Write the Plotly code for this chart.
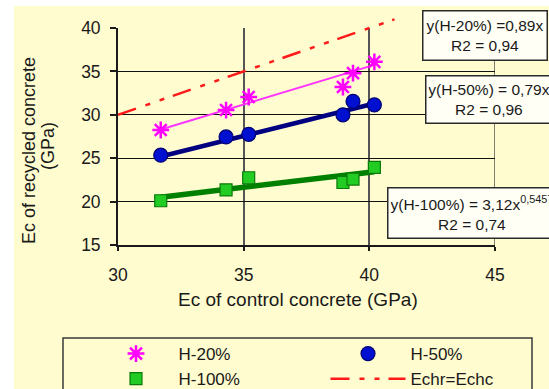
import plotly.graph_objects as go

# ---------------- data ----------------
ec_control = [31.7, 34.3, 35.2, 38.95, 39.35, 40.2]
h20 = [28.25, 30.55, 32.05, 33.2, 34.8, 36.1]
h50 = [25.35, 27.45, 27.75, 30.0, 31.55, 31.15]
h100 = [20.1, 21.35, 22.75, 22.2, 22.6, 23.95]

trend_x = [31.7, 40.2]
trend_h20 = [28.3, 35.75]
trend_h50 = [25.2, 31.3]
trend_h100 = [20.5, 23.45]

equal_x = [30, 41]
equal_y = [30, 41]

x_ticks = [30, 35, 40, 45]
y_ticks = [15, 20, 25, 30, 35, 40]

series_names = ["H-20%", "H-50%", "H-100%", "Echr=Echc"]
box_texts = [
    "y(H-20%) =0,89x<br>R2 = 0,94",
    "y(H-50%) = 0,79x<br>R2 = 0,96",
    "y(H-100%) = 3,12x<sup>0,5457</sup><br>R2 = 0,74",
]

# ---------------- layout geometry ----------------
W, H = 549, 389
L, R, T, B = 118, 54, 6, 144
PW = W - L - R
PH = H - T - B
plot_top_px = 28  # where y = 40 sits
main_dom_top = (H - B - plot_top_px) / PH
y_lo, y_hi = 15, 40
y2_hi = y_lo + (y_hi - y_lo) / main_dom_top

def px_x(p):
    return (p - L) / PW

def px_y(p):
    return (H - B - p) / PH

YELLOW = "#FFFCCF"
FONT = "Liberation Sans, Arial, sans-serif"

fig = go.Figure()

# identity line on an overlay subplot which extends above the top of the axes
fig.add_trace(go.Scatter(
    x=equal_x, y=equal_y, xaxis="x2", yaxis="y2", mode="lines",
    name=series_names[3], legendrank=4,
    line=dict(color="#FF1A1A", width=2.5, dash="19px,10px,5px,10px,5px,9px"),
))

# trend lines
fig.add_trace(go.Scatter(x=trend_x, y=trend_h20, mode="lines", showlegend=False,
                         line=dict(color="#FF33FF", width=2)))
fig.add_trace(go.Scatter(x=trend_x, y=trend_h50, mode="lines", showlegend=False,
                         line=dict(color="#000080", width=4.5)))
fig.add_trace(go.Scatter(x=trend_x, y=trend_h100, mode="lines", showlegend=False,
                         line=dict(color="#008000", width=5.5)))

# markers
fig.add_trace(go.Scatter(
    x=ec_control, y=h20, mode="markers", name=series_names[0], legendrank=1,
    marker=dict(symbol="asterisk-open", size=14, color="#FF00FF",
                line=dict(color="#FF00FF", width=2.5)),
))
fig.add_trace(go.Scatter(
    x=ec_control, y=h50, mode="markers", name=series_names[1], legendrank=2,
    marker=dict(symbol="circle", size=14, color="#0010D0",
                line=dict(color="#000070", width=1.2)),
))
fig.add_trace(go.Scatter(
    x=ec_control, y=h100, mode="markers", name=series_names[2], legendrank=3,
    marker=dict(symbol="square", size=12, color="#22CC22",
                line=dict(color="#0A7A0A", width=1.2)),
))

shapes = [
    # yellow chart area
    dict(type="rect", xref="paper", yref="paper", layer="below",
         x0=px_x(14), x1=px_x(W + 5), y0=px_y(6), y1=px_y(H + 5),
         fillcolor=YELLOW, line=dict(width=0)),
    # right-hand border of the plot area (grid line at the last x tick)
    dict(type="line", xref="x", yref="y", layer="below",
         x0=x_ticks[-1], x1=x_ticks[-1], y0=y_lo, y1=y_hi,
         line=dict(color="#555555", width=1.5)),
    # legend frame
    dict(type="rect", xref="paper", yref="paper", layer="above",
         x0=px_x(63), x1=px_x(532), y0=px_y(338), y1=px_y(H + 10),
         fillcolor="rgba(255,255,255,0)", line=dict(color="#3a3a3a", width=1.5)),
]

annotations = [
    dict(text=box_texts[0], xref="paper", yref="paper", x=px_x(422), y=px_y(10),
         xanchor="left", yanchor="top", showarrow=False, align="center",
         width=119, height=44, borderpad=2, borderwidth=1.5, bordercolor="#2a2a2a",
         bgcolor="#FFFFF6", font=dict(family=FONT, size=15.5, color="#1a1a1a")),
    dict(text=box_texts[1], xref="paper", yref="paper", x=px_x(425), y=px_y(75),
         xanchor="left", yanchor="top", showarrow=False, align="center",
         width=121, height=42, borderpad=2, borderwidth=1.5, bordercolor="#2a2a2a",
         bgcolor="#FFFFF6", font=dict(family=FONT, size=15.5, color="#1a1a1a")),
    dict(text=box_texts[2], xref="paper", yref="paper", x=px_x(387), y=px_y(187),
         xanchor="left", yanchor="top", showarrow=False, align="center",
         height=45, borderpad=2, borderwidth=1.5, bordercolor="#2a2a2a",
         bgcolor="#FFFFF6", font=dict(family=FONT, size=15.5, color="#1a1a1a")),
    # axis titles
    dict(text="Ec of control concrete (GPa)", xref="paper", yref="paper",
         x=px_x(298), y=px_y(299), xanchor="center", yanchor="middle", showarrow=False,
         font=dict(family=FONT, size=19, color="#1a1a1a")),
    dict(text="Ec of recycled concrete", xref="paper", yref="paper", textangle=-90,
         x=px_x(29), y=px_y(151), xanchor="center", yanchor="middle", showarrow=False,
         font=dict(family=FONT, size=18, color="#1a1a1a")),
    dict(text="(GPa)", xref="paper", yref="paper", textangle=-90,
         x=px_x(48), y=px_y(146), xanchor="center", yanchor="middle", showarrow=False,
         font=dict(family=FONT, size=18, color="#1a1a1a")),
]

fig.update_layout(
    width=W, height=H,
    margin=dict(l=L, r=R, t=T, b=B, pad=0, autoexpand=False),
    paper_bgcolor="white",
    plot_bgcolor="rgba(0,0,0,0)",
    font=dict(family=FONT, color="#1a1a1a"),
    shapes=shapes,
    annotations=annotations,
    xaxis=dict(range=[30, 45], tickvals=x_ticks, showgrid=True, gridcolor="#555555",
               gridwidth=1.5, showline=True, linecolor="#1a1a1a", linewidth=1.8,
               ticks="outside", ticklen=4, tickwidth=1.5, tickcolor="#1a1a1a",
               tickfont=dict(size=17.5), ticklabelstandoff=9, zeroline=False,
               anchor="y", domain=[0, 1], automargin=False),
    yaxis=dict(range=[y_lo, y_hi], tickvals=y_ticks, showgrid=True, gridcolor="#111111",
               gridwidth=1.3, showline=True, linecolor="#1a1a1a", linewidth=1.8,
               ticks="outside", ticklen=6, tickwidth=1.5, tickcolor="#1a1a1a",
               tickfont=dict(size=17.5), ticklabelstandoff=6, zeroline=False,
               anchor="x", domain=[0, main_dom_top], automargin=False),
    xaxis2=dict(range=[30, 45], visible=False, anchor="y2", domain=[0, 1],
                showgrid=False, zeroline=False),
    yaxis2=dict(range=[y_lo, y2_hi], visible=False, anchor="x2", domain=[0, 1],
                showgrid=False, zeroline=False),
    legend=dict(orientation="h", x=px_x(93.5), y=px_y(336), xanchor="left", yanchor="top",
                itemwidth=75, entrywidth=142, entrywidthmode="pixels",
                bgcolor="rgba(0,0,0,0)", borderwidth=0,
                font=dict(family=FONT, size=17, color="#1a1a1a"),
                traceorder="normal"),
)

fig.write_html("out.html")
